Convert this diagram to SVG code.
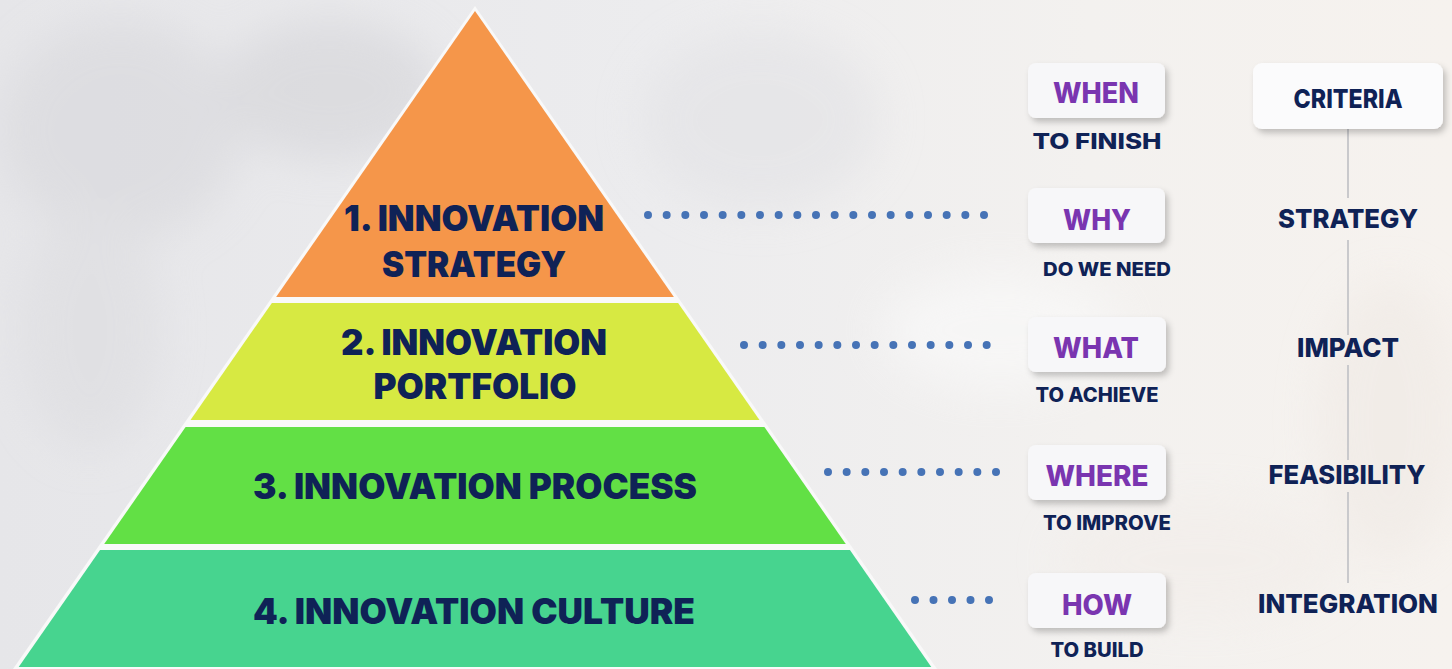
<svg xmlns="http://www.w3.org/2000/svg" width="1452" height="669" viewBox="0 0 1452 669">
  <defs>
    <linearGradient id="bg" x1="0" y1="0" x2="1" y2="0">
      <stop offset="0" stop-color="#e6e6e9"/>
      <stop offset="0.45" stop-color="#ececee"/>
      <stop offset="0.75" stop-color="#f3f1ef"/>
      <stop offset="1" stop-color="#f6f2ee"/>
    </linearGradient>
    <filter id="blur" x="-50%" y="-50%" width="200%" height="200%">
      <feGaussianBlur stdDeviation="22"/>
    </filter>
    <filter id="shadow" x="-20%" y="-30%" width="140%" height="170%">
      <feDropShadow dx="3" dy="4" stdDeviation="3" flood-color="#000" flood-opacity="0.22"/>
    </filter>
    <style>
      .t { font-family: Inter, "Open Sans", "Liberation Sans", sans-serif; font-weight: 800; text-anchor: middle; }
      .pyr { fill: #0f2256; font-size: 35px; font-weight: 900; }
      .q { fill: #7a35b0; font-size: 28px; }
      .sub { fill: #0f2256; font-size: 21px; }
      .crit { fill: #0f2256; font-size: 26px; }
      .box { fill: #f7f7f9; filter: url(#shadow); }
      .dots { stroke: #4673b6; stroke-width: 8; stroke-linecap: round; fill: none; }
      .vline { stroke: #c9c9cc; stroke-width: 2; fill: none; }
    </style>
  </defs>

  <!-- background -->
  <rect x="0" y="0" width="1452" height="669" fill="url(#bg)"/>
  <g filter="url(#blur)" opacity="0.6">
    <ellipse cx="120" cy="130" rx="120" ry="110" fill="#d8d8dc"/>
    <ellipse cx="330" cy="90" rx="110" ry="70" fill="#d4d4d8"/>
    <ellipse cx="90" cy="330" rx="70" ry="120" fill="#dddde0"/>
    <ellipse cx="760" cy="120" rx="120" ry="90" fill="#e2e2e5"/>
    <ellipse cx="1000" cy="330" rx="120" ry="60" fill="#fafafa"/>
    <ellipse cx="1390" cy="420" rx="70" ry="140" fill="#efe9e4"/>
    <ellipse cx="1200" cy="560" rx="140" ry="60" fill="#f2ede9"/>
  </g>

  <!-- pyramid -->
  <g id="pyramid-outline">
    <polygon points="475,6 13,669 937,669" fill="#f9f9f9"/>
  </g>
  <g id="layer1">
    <polygon points="475,11 673.9,297 276.1,297" fill="#f5964a"/>
    <text class="t pyr" x="474" y="231" textLength="260" lengthAdjust="spacingAndGlyphs">1. INNOVATION</text>
    <text class="t pyr" x="474" y="277" textLength="184" lengthAdjust="spacingAndGlyphs">STRATEGY</text>
  </g>
  <g id="layer2">
    <polygon points="271.9,303 678.1,303 759.5,420 190.5,420" fill="#d7e942"/>
    <text class="t pyr" x="474" y="355" textLength="266" lengthAdjust="spacingAndGlyphs">2. INNOVATION</text>
    <text class="t pyr" x="475" y="399" textLength="203" lengthAdjust="spacingAndGlyphs">PORTFOLIO</text>
  </g>
  <g id="layer3">
    <polygon points="185.6,427 764.4,427 845.8,544 104.2,544" fill="#62e045"/>
    <text class="t pyr" x="475" y="499" textLength="444" lengthAdjust="spacingAndGlyphs">3. INNOVATION PROCESS</text>
  </g>
  <g id="layer4">
    <polygon points="100.1,550 849.9,550 931.3,667 18.7,667" fill="#47d48f"/>
    <text class="t pyr" x="474" y="624" textLength="442" lengthAdjust="spacingAndGlyphs">4. INNOVATION CULTURE</text>
  </g>

  <!-- connectors -->
  <g id="connectors">
    <line class="dots" x1="648" y1="215" x2="986" y2="215" stroke-dasharray="0 18.667"/>
    <line class="dots" x1="744" y1="345" x2="989" y2="345" stroke-dasharray="0 18.667"/>
    <line class="dots" x1="828" y1="472" x2="998" y2="472" stroke-dasharray="0 18.667"/>
    <line class="dots" x1="915" y1="600" x2="991" y2="600" stroke-dasharray="0 18.5"/>
    <line class="vline" x1="1348" y1="129" x2="1348" y2="198"/>
    <line class="vline" x1="1348" y1="240" x2="1348" y2="335"/>
    <line class="vline" x1="1348" y1="365" x2="1348" y2="460"/>
    <line class="vline" x1="1348" y1="492" x2="1348" y2="583"/>
  </g>

  <!-- question nodes -->
  <g id="when">
    <rect class="box" x="1028" y="63" width="137" height="55" rx="8"/>
    <text class="t q" x="1096" y="103" textLength="86" lengthAdjust="spacingAndGlyphs">WHEN</text>
    <text class="t sub" x="1097" y="149" textLength="129" lengthAdjust="spacingAndGlyphs">TO FINISH</text>
  </g>
  <g id="why">
    <rect class="box" x="1028" y="188" width="137" height="55" rx="8"/>
    <text class="t q" x="1097" y="230" textLength="68" lengthAdjust="spacingAndGlyphs">WHY</text>
    <text class="t sub" x="1107" y="276" textLength="128" lengthAdjust="spacingAndGlyphs" style="font-size:19px">DO WE NEED</text>
  </g>
  <g id="what">
    <rect class="box" x="1028" y="317" width="138" height="55" rx="8"/>
    <text class="t q" x="1096" y="358" textLength="86" lengthAdjust="spacingAndGlyphs">WHAT</text>
    <text class="t sub" x="1097" y="402" textLength="123" lengthAdjust="spacingAndGlyphs" style="font-size:20px">TO ACHIEVE</text>
  </g>
  <g id="where">
    <rect class="box" x="1028" y="445" width="138" height="55" rx="8"/>
    <text class="t q" x="1097" y="486" textLength="103" lengthAdjust="spacingAndGlyphs">WHERE</text>
    <text class="t sub" x="1107" y="530" textLength="128" lengthAdjust="spacingAndGlyphs" style="font-size:20px">TO IMPROVE</text>
  </g>
  <g id="how">
    <rect class="box" x="1028" y="573" width="138" height="55" rx="8"/>
    <text class="t q" x="1097" y="615" textLength="70" lengthAdjust="spacingAndGlyphs">HOW</text>
    <text class="t sub" x="1097" y="657" textLength="93" lengthAdjust="spacingAndGlyphs" style="font-size:20px">TO BUILD</text>
  </g>

  <!-- criteria nodes -->
  <g id="criteria">
    <rect class="box" x="1253" y="63" width="190" height="66" rx="9" style="fill:#fbfbfc"/>
    <text class="t crit" x="1348" y="108" textLength="109" lengthAdjust="spacingAndGlyphs">CRITERIA</text>
  </g>
  <g id="strategy">
    <text class="t crit" x="1348" y="228" textLength="140" lengthAdjust="spacingAndGlyphs">STRATEGY</text>
  </g>
  <g id="impact">
    <text class="t crit" x="1348" y="357" textLength="102" lengthAdjust="spacingAndGlyphs">IMPACT</text>
  </g>
  <g id="feasibility">
    <text class="t crit" x="1347" y="484" textLength="157" lengthAdjust="spacingAndGlyphs">FEASIBILITY</text>
  </g>
  <g id="integration">
    <text class="t crit" x="1348" y="613" textLength="180" lengthAdjust="spacingAndGlyphs">INTEGRATION</text>
  </g>
</svg>
